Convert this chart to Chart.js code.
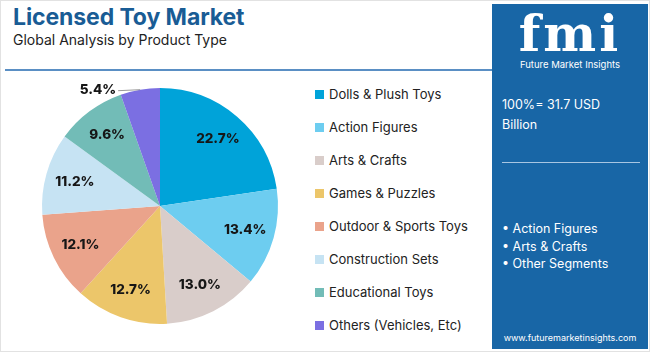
<!DOCTYPE html>
<html><head><meta charset="utf-8">
<script src="https://cdn.jsdelivr.net/npm/chart.js@4"></script>
<style>
html,body{margin:0;padding:0;background:#fff;}
body{width:650px;height:352px;position:relative;overflow:hidden;font-family:Inter,"Open Sans",sans-serif;}
#frame{position:absolute;left:0;top:0;width:648px;height:350px;border:1px solid #e2e2e2;}
#title{position:absolute;left:13px;top:3px;font-size:23px;font-weight:700;color:#195c95;letter-spacing:-0.1px;}
#sub{position:absolute;left:13px;top:31px;font-size:14px;color:#222;}
#rule{position:absolute;left:5px;top:69px;width:487px;height:2px;background:#5a8fc4;}
#cw{position:absolute;left:20px;top:80px;width:280px;height:252px;}
#legend{position:absolute;left:315px;top:86px;}
.li{height:33px;display:flex;align-items:flex-start;font-size:13px;color:#222;}
.sw{width:9px;height:9px;margin-right:5px;margin-top:4px;}
#panel{position:absolute;left:492px;top:4px;width:156px;height:345px;background:#1866a6;color:#fff;}
#logo{position:absolute;left:0;width:156px;top:4px;text-align:center;font-family:"DejaVu Serif",serif;font-weight:700;font-size:50px;line-height:52px;letter-spacing:3px;}
#logosub{position:absolute;left:0;width:156px;top:55px;text-align:center;font-size:9.5px;}
#tot{position:absolute;left:10px;top:91px;font-size:12.5px;line-height:20px;}
#prule{position:absolute;left:10px;top:158px;width:138px;height:1px;background:#a8c6e2;}
#bul{position:absolute;left:10px;top:216px;font-size:12.5px;line-height:17.5px;}
#url{position:absolute;left:0;width:156px;top:328px;text-align:center;font-size:9px;}
</style></head>
<body>
<div id="frame"></div>
<div id="title">Licensed Toy Market</div>
<div id="sub">Global Analysis by Product Type</div>
<div id="rule"></div>
<div id="cw"><canvas id="c"></canvas></div>
<div id="legend"></div>
<div id="panel">
  <div id="logo">fmi</div>
  <div id="logosub">Future Market Insights</div>
  <div id="tot">100%= 31.7 USD<br>Billion</div>
  <div id="prule"></div>
  <div id="bul">• Action Figures<br>• Arts &amp; Crafts<br>• Other Segments</div>
  <div id="url">www.futuremarketinsights.com</div>
</div>
<script>
const categories = ["Dolls & Plush Toys","Action Figures","Arts & Crafts","Games & Puzzles","Outdoor & Sports Toys","Construction Sets","Educational Toys","Others (Vehicles, Etc)"];
const shares = [22.7,13.4,13.0,12.7,12.1,11.2,9.6,5.4];
const colors = ["#00a3d9","#6dcdf0","#d9cdca","#ecc66a","#eaa38b","#c6e3f3","#72bcb7","#7b6fe2"];

const lg = document.getElementById('legend');
categories.forEach((c,i)=>{
  const d=document.createElement('div');d.className='li';
  d.innerHTML='<div class="sw" style="background:'+colors[i]+'"></div><span>'+c.replace('&','&amp;')+'</span>';
  lg.appendChild(d);
});

const labelPlugin = {
  id:'pieLabels',
  afterDatasetsDraw(chart){
    const ctx=chart.ctx;
    const meta=chart.getDatasetMeta(0);
    ctx.save();
    ctx.font='800 13.5px Inter, "Open Sans", sans-serif';
    ctx.fillStyle='#161616';
    ctx.textBaseline='middle';
    meta.data.forEach((arc,i)=>{
      const p=arc.getProps(['x','y','startAngle','endAngle','outerRadius'],true);
      const mid=(p.startAngle+p.endAngle)/2;
      const txt=shares[i].toFixed(1)+'%';
      if(shares[i]<6){
        const ex=p.x+Math.cos(mid)*p.outerRadius, ey=p.y+Math.sin(mid)*p.outerRadius;
        ctx.strokeStyle='#999';ctx.lineWidth=1;
        ctx.beginPath();ctx.moveTo(ex,ey);ctx.lineTo(ex-22,ey+1);ctx.stroke();
        ctx.textAlign='right';
        ctx.fillText(txt,ex-24,ey);
      } else {
        const r=p.outerRadius*0.75;
        ctx.textAlign='center';
        ctx.fillText(txt,p.x+Math.cos(mid)*r,p.y+Math.sin(mid)*r);
      }
    });
    ctx.restore();
  }
};

new Chart(document.getElementById('c'),{
  type:'pie',
  data:{labels:categories,datasets:[{data:shares,backgroundColor:colors,borderWidth:0}]},
  options:{responsive:true,maintainAspectRatio:false,animation:false,
    layout:{padding:8},
    plugins:{legend:{display:false},tooltip:{enabled:false}}},
  plugins:[labelPlugin]
});
</script>
</body></html>
